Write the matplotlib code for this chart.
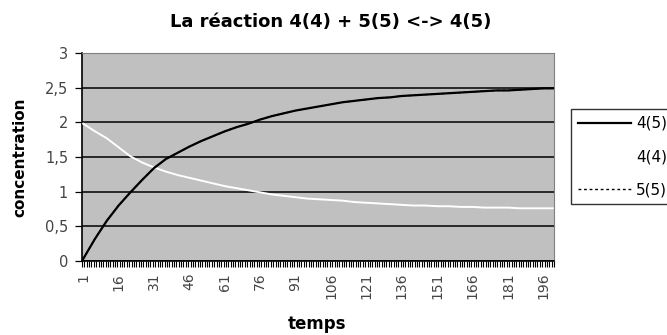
import matplotlib
matplotlib.use('Agg')
import matplotlib.pyplot as plt
from matplotlib.ticker import FuncFormatter, MultipleLocator

plt.rcParams['font.family'] = ['DejaVu Sans']

temps = [1, 6, 11, 16, 21, 26, 31, 36, 41, 46, 51, 56, 61, 66, 71, 76, 81, 86, 91, 96,
         101, 106, 111, 116, 121, 126, 131, 136, 141, 146, 151, 156, 161, 166, 171, 176,
         181, 186, 191, 196, 200]
conc_45 = [0.03, 0.32, 0.58, 0.80, 0.99, 1.17, 1.34, 1.47, 1.56, 1.65, 1.73, 1.80, 1.87,
           1.93, 1.98, 2.04, 2.09, 2.13, 2.17, 2.20, 2.23, 2.26, 2.29, 2.31, 2.33, 2.35,
           2.36, 2.38, 2.39, 2.40, 2.41, 2.42, 2.43, 2.44, 2.45, 2.46, 2.46, 2.47, 2.48,
           2.49, 2.49]
conc_44 = [1.98, 1.87, 1.77, 1.64, 1.51, 1.42, 1.35, 1.29, 1.24, 1.20, 1.16, 1.12, 1.08,
           1.05, 1.02, 0.99, 0.96, 0.94, 0.92, 0.90, 0.89, 0.88, 0.87, 0.85, 0.84, 0.83,
           0.82, 0.81, 0.80, 0.80, 0.79, 0.79, 0.78, 0.78, 0.77, 0.77, 0.77, 0.76, 0.76,
           0.76, 0.76]
# 5(5) lies under the 4(5) curve
conc_55 = [0.03, 0.32, 0.58, 0.80, 0.99, 1.17, 1.34, 1.47, 1.56, 1.65, 1.73, 1.80, 1.87,
           1.93, 1.98, 2.04, 2.09, 2.13, 2.17, 2.20, 2.23, 2.26, 2.29, 2.31, 2.33, 2.35,
           2.36, 2.38, 2.39, 2.40, 2.41, 2.42, 2.43, 2.44, 2.45, 2.46, 2.46, 2.47, 2.48,
           2.49, 2.49]
x_ticks = list(range(1, 200, 15))

fig = plt.figure(figsize=(6.67, 3.35), dpi=100)
ax = fig.add_axes([82 / 667, 1 - 261 / 335, (554 - 82) / 667, (261 - 53) / 335])
ax.set_facecolor('#c0c0c0')

l1, = ax.plot(temps, conc_45, color='black', lw=1.6, label='4(5)', zorder=4)
l2, = ax.plot(temps, conc_44, color='white', lw=1.4, label='4(4)', zorder=3)
l3, = ax.plot(temps, conc_55, color='black', lw=1.0, ls=(0, (2, 2)), label='5(5)', zorder=3)

ax.set_xlim(0.5, 200.5)
ax.set_ylim(0, 3)
ax.yaxis.set_major_locator(MultipleLocator(0.5))
ax.yaxis.set_major_formatter(FuncFormatter(lambda v, p: ('%g' % v).replace('.', ',')))
ax.grid(axis='y', color='black', lw=1.1)
ax.set_axisbelow(True)

ax.set_xticks(x_ticks)
ax.set_xticklabels([str(t) for t in x_ticks], rotation=90, fontsize=10, color='#444444')
ax.set_xticks([i + 0.5 for i in range(0, 201)], minor=True)
ax.tick_params(axis='x', which='major', length=0, pad=8.5)
ax.tick_params(axis='x', which='minor', length=4.5, width=0.8, direction='out', color='black')
ax.tick_params(axis='y', length=5, width=0.9, direction='out', pad=5,
               labelsize=10.5, labelcolor='#444444')

for side in ['top', 'right']:
    ax.spines[side].set_color('#808080')
for side in ['left', 'bottom']:
    ax.spines[side].set_color('black')
    ax.spines[side].set_linewidth(1.2)

fig.text(331 / 667, 1 - 22 / 335, 'La réaction 4(4) + 5(5) <-> 4(5)',
         fontsize=13, fontweight='bold', ha='center', va='center')
ax.set_ylabel('concentration', fontsize=11, fontweight='bold', va='center')
ax.yaxis.set_label_coords((20 - 82) / 472, 0.5)
ax.set_xlabel('temps', fontsize=12, fontweight='bold', va='center')
ax.xaxis.set_label_coords((317 - 82) / 472, -(324 - 261) / 208)

leg = fig.legend(handles=[l1, l2, l3], loc='upper left',
                 bbox_to_anchor=(571 / 667, 1 - 109 / 335), borderaxespad=0, fontsize=11,
                 frameon=True, fancybox=False, edgecolor='black',
                 handlelength=3.5, handletextpad=0.3, borderpad=0.45, labelspacing=1.2)
leg.get_frame().set_linewidth(1.0)

plt.savefig('out.png', dpi=100)
